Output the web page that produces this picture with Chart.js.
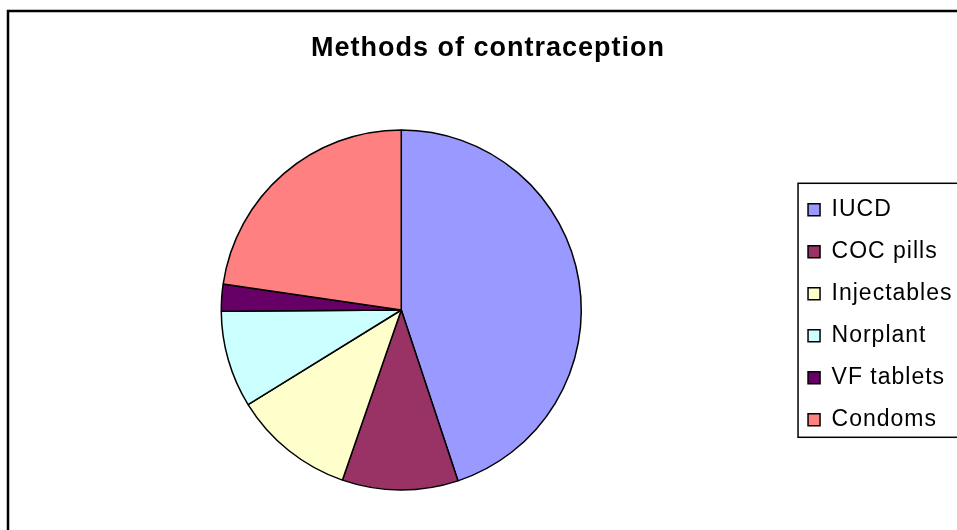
<!DOCTYPE html>
<html>
<head>
<meta charset="utf-8">
<script src="https://cdn.jsdelivr.net/npm/chart.js@4"></script>
<style>
  html, body { margin: 0; padding: 0; background: #fff; overflow: hidden; }
  #chart { display: block; }
</style>
</head>
<body>
<canvas id="chart" width="976" height="530"></canvas>
<script>
const methods = ["IUCD", "COC pills", "Injectables", "Norplant", "VF tablets", "Condoms"];
const shares = [44.9, 10.4, 10.9, 8.7, 2.4, 22.7];
const sliceColors = ["#9999FF", "#993366", "#FFFFCC", "#CCFFFF", "#660066", "#FF8080"];

Chart.defaults.font.family = '"Liberation Sans", Arial, sans-serif';
Chart.defaults.color = "#000";

// outer frame, legend box and slightly wider text spacing
const frame = {
  id: "frame",
  beforeUpdate(chart) {
    chart.ctx.letterSpacing = "1px";
  },
  beforeDraw(chart) {
    const ctx = chart.ctx;
    ctx.letterSpacing = "1px";
    ctx.save();
    ctx.fillStyle = "#fff";
    ctx.fillRect(0, 0, chart.width, chart.height);
    ctx.strokeStyle = "#000";
    ctx.lineWidth = 2.5;
    ctx.beginPath();
    ctx.moveTo(8, chart.height + 5);
    ctx.lineTo(8, 11);
    ctx.lineTo(chart.width + 5, 11);
    ctx.stroke();
    ctx.restore();
  },
  afterDraw(chart) {
    const boxes = chart.legend.legendHitBoxes;
    if (!boxes || !boxes.length) return;
    const first = boxes[0];
    const last = boxes[boxes.length - 1];
    const ctx = chart.ctx;
    ctx.save();
    ctx.strokeStyle = "#000";
    ctx.lineWidth = 1.5;
    ctx.strokeRect(first.left - 10, first.top - 15, chart.width, last.top + last.height - first.top + 21);
    ctx.restore();
  }
};

new Chart(document.getElementById("chart"), {
  type: "pie",
  data: {
    labels: methods,
    datasets: [
      {
        data: shares,
        backgroundColor: sliceColors,
        borderColor: "#000",
        borderWidth: 1.5,
        radius: 180,
      },
    ],
  },
  options: {
    responsive: false,
    animation: false,
    layout: {
      padding: { left: 13.5, right: 13.5, top: 0, bottom: 14.9 },
    },
    plugins: {
      title: {
        display: true,
        text: "Methods of contraception",
        font: { size: 27, weight: "bold" },
        padding: { top: 32.5, bottom: 40 },
      },
      legend: {
        position: "right",
        fullSize: false,
        title: { display: true, text: "", font: { size: 8 }, padding: 0 },
        labels: {
          boxWidth: 12,
          boxHeight: 12,
          padding: 19,
          font: { size: 23 },
        },
      },
      tooltip: { enabled: false },
    },
  },
  plugins: [frame],
});
</script>
</body>
</html>
